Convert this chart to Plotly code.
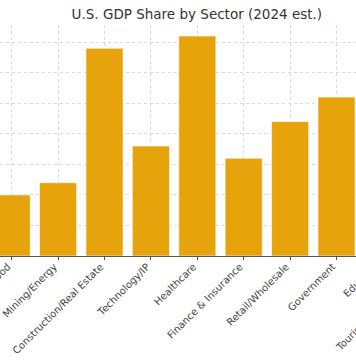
import plotly.graph_objects as go

sectors = ["Manufacturing", "Agriculture/Food", "Mining/Energy", "Construction/Real Estate",
           "Technology/IP", "Healthcare", "Finance & Insurance", "Retail/Wholesale",
           "Government", "Education", "Tourism & Entertainment"]
share = [11, 5, 6, 17, 9, 18, 8, 11, 13, 6, 4]

y_ticks = [0, 2.5, 5, 7.5, 10, 12.5, 15, 17.5]

W, H = 356, 364
x_range = [0.748, 8.42]
px_per_cat = W / (x_range[1] - x_range[0])
label_nudge = -4

fig = go.Figure()
fig.add_trace(go.Bar(
    x=sectors, y=share, width=0.8,
    marker=dict(color="#E69F00", line=dict(color="rgba(255,255,255,0.6)", width=1)),
    opacity=0.95, hoverinfo="x+y",
))
# invisible copy on a second x axis, used only to show the labels of the
# categories that sit just past the right edge of the view
fig.add_trace(go.Bar(
    x=sectors, y=share, width=0.8, xaxis="x2", opacity=0,
    hoverinfo="skip", showlegend=False,
))

fig.update_layout(
    width=W, height=H,
    margin=dict(l=0, r=0, t=25, b=108, autoexpand=False),
    paper_bgcolor="white", plot_bgcolor="white",
    font=dict(family="DejaVu Sans", color="#444"),
    title=dict(text="U.S. GDP Share by Sector (2024 est.)", x=0.553, xanchor="center",
               y=0.962, yanchor="middle", font=dict(size=13.5, color="#333")),
    showlegend=False, bargap=0.2, barmode="overlay",
    xaxis=dict(
        type="category", range=x_range, automargin=False,
        tickangle=-45, tickfont=dict(size=10, color="#444"),
        ticklabelshift=label_nudge, ticklabelstandoff=-3,
        showgrid=True, gridcolor="#d9d9d9", griddash="dot", gridwidth=1,
        showline=True, linecolor="#555", linewidth=1,
        ticks="outside", ticklen=3, tickcolor="#555",
    ),
    xaxis2=dict(
        type="category", overlaying="x", anchor="y", side="bottom",
        range=x_range, automargin=False,
        tickvals=sectors[7:9], ticktext=sectors[9:11],
        ticklabelshift=int(round(2 * px_per_cat)) + label_nudge, ticklabelstandoff=-3,
        tickangle=-45, tickfont=dict(size=10, color="#444"),
        showgrid=False, showline=False, ticks="", zeroline=False,
    ),
    yaxis=dict(
        range=[0, 18.9], tickvals=y_ticks, showticklabels=False, ticks="",
        showgrid=True, gridcolor="#d9d9d9", griddash="dot", gridwidth=1,
        zeroline=False, showline=False, automargin=False,
    ),
)

fig.write_html("out.html", config={"displayModeBar": False},
               post_script="document.body.style.margin='0';document.body.style.overflow='hidden';")
